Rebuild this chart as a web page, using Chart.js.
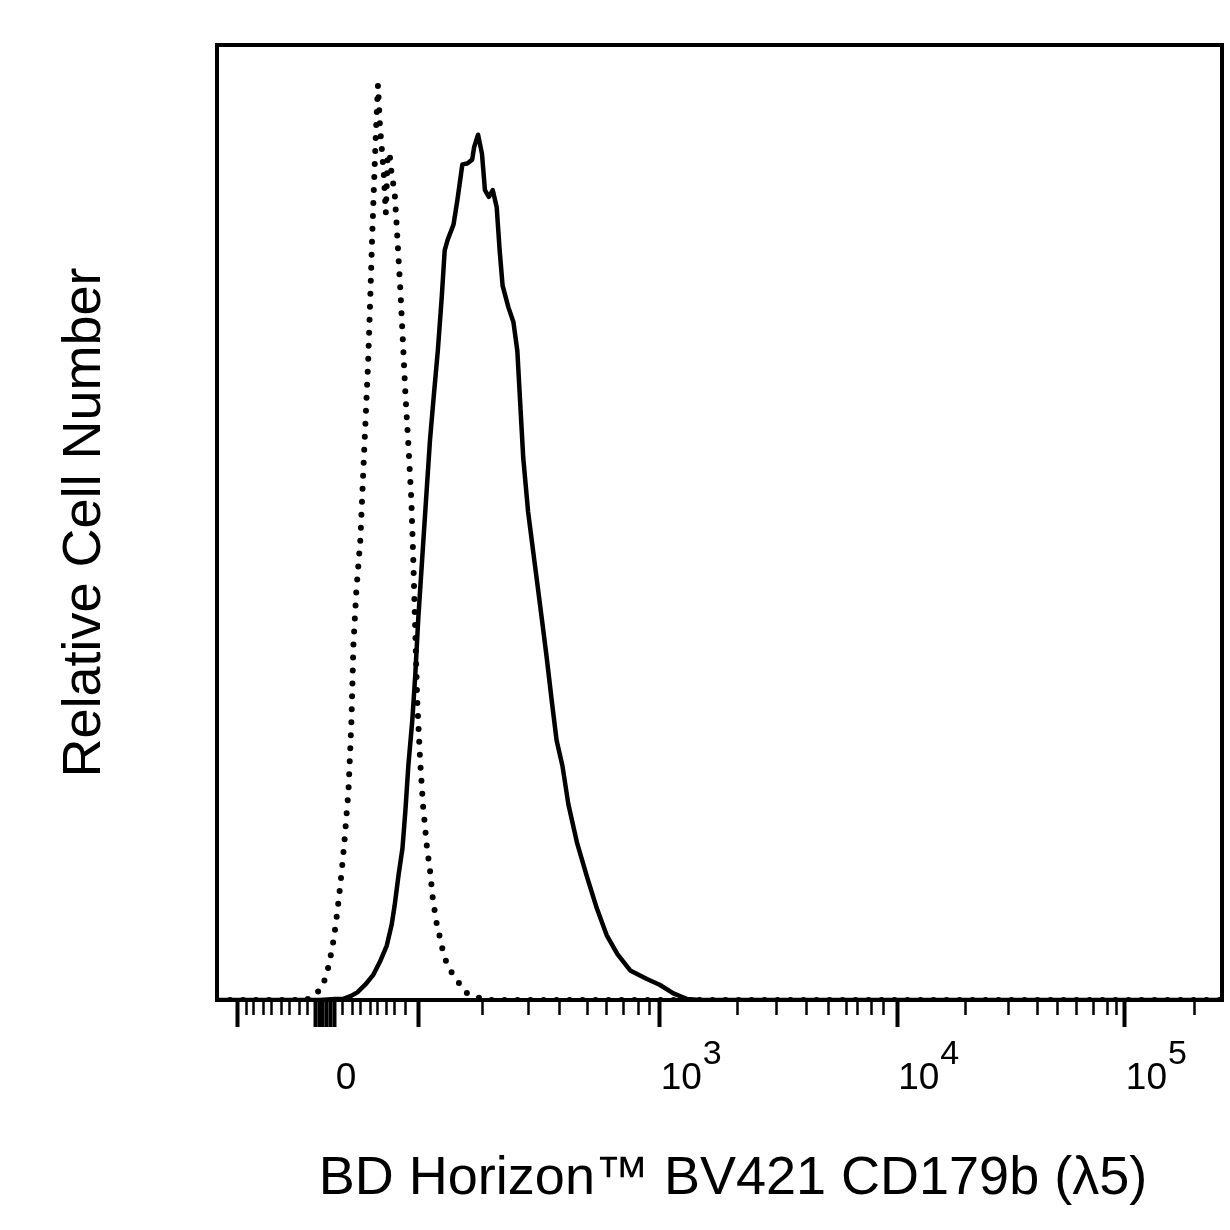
<!DOCTYPE html>
<html>
<head>
<meta charset="utf-8">
<script src="https://cdn.jsdelivr.net/npm/chart.js@4/dist/chart.umd.min.js"></script>
<style>
  html, body { margin: 0; padding: 0; background: #ffffff; }
  #wrap { width: 1230px; height: 1230px; }
</style>
</head>
<body>
<div id="wrap"><canvas id="c" width="1230" height="1230"></canvas></div>
<script>
// ---- data (x = display channel 0..1024 on biexponential axis, y = relative cell number) ----
const isotypeChannels = [0, 90, 97, 101, 107, 112, 115, 118, 121, 124, 127, 130, 134, 137, 139, 142, 146, 150, 154, 156, 158, 160, 162, 164, 166, 168, 170, 172, 174, 176, 178, 181, 183, 187, 190, 192, 195, 198, 200, 202, 204, 207, 210, 214, 217, 220, 224, 227, 230, 235, 243, 253, 265, 273, 1024];
const isotypeCounts   = [0, 0, 0.3, 0.7, 1.3, 2.8, 4.2, 5.8, 7.9, 10.5, 13.4, 16.8, 22.0, 29.3, 37.2, 42.9, 48.1, 57.6, 66.8, 73.0, 79.6, 85.5, 91.1, 95.8, 91.6, 89.0, 86.4, 82.4, 88.7, 88.5, 86.4, 84.6, 81.2, 74.0, 67.7, 63.4, 58.1, 52.4, 46.1, 38.7, 31.4, 25.0, 20.3, 15.9, 13.6, 10.5, 7.9, 6.6, 5.2, 3.5, 2.3, 0.8, 0.3, 0, 0];

const stainedChannels = [0, 105, 120, 128, 136, 143, 151, 159, 166, 173, 178, 181, 185, 189, 192, 195, 199, 202, 205, 209, 213, 217, 221, 225, 229, 232, 235, 241, 245, 250, 255, 260, 262, 266, 270, 273, 277, 281, 285, 288, 291, 297, 302, 306, 309, 312, 317, 324, 331, 336, 341, 346, 352, 358, 367, 377, 387, 397, 408, 421, 438, 451, 465, 479, 492, 1024];
const stainedCounts   = [0, 0, 0.1, 0.1, 0.4, 0.8, 1.6, 2.6, 4.0, 5.7, 7.9, 9.9, 13.1, 15.9, 19.9, 24.6, 29.3, 34.0, 39.8, 46.1, 52.4, 58.6, 63.4, 68.0, 73.6, 78.5, 79.6, 81.2, 83.8, 87.5, 87.6, 88.0, 89.3, 90.6, 88.6, 84.8, 84.1, 84.8, 83.0, 78.5, 74.8, 72.5, 71.0, 68.0, 62.4, 56.8, 51.1, 45.5, 39.9, 35.8, 31.4, 27.2, 24.5, 20.5, 16.4, 12.9, 9.6, 6.8, 4.8, 3.1, 2.2, 1.6, 0.7, 0.1, 0, 0];

// ---- axis ticks (channel positions) ----
const majorTickChannels = [21, 100, 104, 108, 112, 116, 120, 205, 451, 693, 925];
const majorTickBase     = ['', '', '', '', '', '', '0', '', '10', '10', '10'];
const majorTickExp      = ['', '', '', '', '', '', '', '', '3', '4', '5'];
const minorTickChannels = [30, 37, 47, 56, 66, 74, 84, 92, 128, 138, 146, 156, 164, 173, 181, 192, 271, 317, 349, 377, 397, 414, 429, 441, 530, 570, 601, 623, 641, 653, 667, 679, 763, 806, 836, 856, 876, 893, 907, 917, 996];

const xTitle = '\u2002BD Horizon\u2122 BV421 CD179b (\u03bb5)';
const yTitle = 'Relative Cell Number';

const FONT = '"Liberation Sans", Arial, Helvetica, sans-serif';

const toPoints = (xs, ys) => xs.map((x, i) => ({ x: x, y: ys[i] }));
const majorSet = new Set(majorTickChannels);

const framePlugin = {
  id: 'frame',
  afterDraw(chart) {
    const { ctx, chartArea: a } = chart;
    ctx.save();
    ctx.strokeStyle = '#000';
    ctx.lineWidth = 4;
    ctx.strokeRect(a.left, a.top, a.right - a.left, a.bottom - a.top);
    ctx.restore();
  }
};

const tickLabelPlugin = {
  id: 'tickLabels',
  afterDraw(chart) {
    const { ctx, chartArea: a } = chart;
    const xs = chart.scales.x;
    ctx.save();
    ctx.fillStyle = '#000';
    ctx.textAlign = 'left';
    ctx.textBaseline = 'alphabetic';
    majorTickChannels.forEach((ch, i) => {
      const base = majorTickBase[i];
      if (!base) return;
      const px = xs.getPixelForValue(ch) + 1;
      ctx.font = '37px ' + FONT;
      ctx.fillText(base, px, a.bottom + 89);
      const exp = majorTickExp[i];
      if (exp) {
        const w = ctx.measureText(base).width;
        ctx.font = '34px ' + FONT;
        ctx.fillText(exp, px + w + 1, a.bottom + 64);
      }
    });
    ctx.restore();
  }
};

new Chart(document.getElementById('c'), {
  type: 'line',
  data: {
    datasets: [
      {
        label: 'Stained',
        data: toPoints(stainedChannels, stainedCounts),
        borderColor: '#000',
        borderWidth: 4.5,
        borderJoinStyle: 'round',
        borderCapStyle: 'round',
        pointRadius: 0,
        tension: 0,
        fill: false,
        order: 0
      },
      {
        label: 'Isotype',
        data: toPoints(isotypeChannels, isotypeCounts),
        borderColor: '#000',
        borderWidth: 6,
        borderDash: [0, 13],
        borderCapStyle: 'round',
        pointRadius: 0,
        tension: 0,
        fill: false,
        order: 1
      }
    ]
  },
  options: {
    responsive: false,
    animation: false,
    devicePixelRatio: 1,
    layout: { padding: { left: 52.6, right: 8, top: 45, bottom: 18.6 } },
    plugins: { legend: { display: false }, tooltip: { enabled: false } },
    scales: {
      x: {
        type: 'linear',
        min: 0,
        max: 1024,
        afterBuildTicks: (axis) => {
          const all = majorTickChannels.concat(minorTickChannels).sort((a, b) => a - b);
          axis.ticks = all.map(v => ({ value: v }));
        },
        ticks: { display: false },
        border: { display: false },
        grid: {
          drawOnChartArea: false,
          drawTicks: true,
          tickLength: 27,
          tickColor: '#000',
          tickWidth: (ctx) => (ctx.tick && majorSet.has(ctx.tick.value)) ? 4 : 2.5,
          tickBorderDash: (ctx) => (ctx.tick && majorSet.has(ctx.tick.value)) ? [] : [15, 100]
        },
        title: {
          display: true,
          text: xTitle,
          color: '#000',
          font: { family: FONT, size: 54 },
          padding: { top: 119.6, bottom: 0 }
        }
      },
      y: {
        min: 0,
        max: 100,
        ticks: { display: false },
        border: { display: false },
        grid: { display: false, drawTicks: false },
        title: {
          display: true,
          text: yTitle,
          color: '#000',
          font: { family: FONT, size: 54 },
          padding: { top: 0, bottom: 99.6 }
        }
      }
    }
  },
  plugins: [framePlugin, tickLabelPlugin]
});
</script>
</body>
</html>
